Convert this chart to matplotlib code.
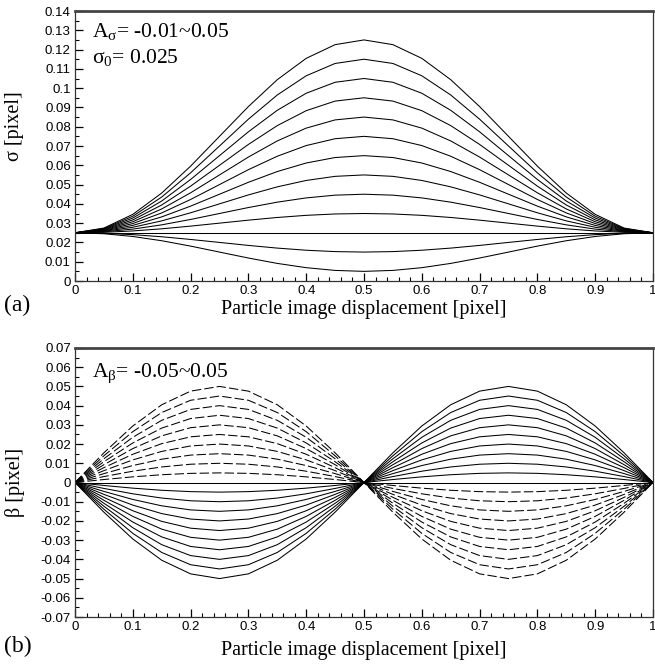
import matplotlib
matplotlib.use("Agg")
import matplotlib.pyplot as plt
import numpy as np
from matplotlib.ticker import MultipleLocator, FuncFormatter

plt.rcParams["mathtext.fontset"] = "custom"
plt.rcParams["mathtext.rm"] = "Liberation Serif"
plt.rcParams["mathtext.it"] = "Liberation Serif:italic"

# Particle image displacement samples [pixel]
displacement = [0.00, 0.05, 0.10, 0.15, 0.20, 0.25, 0.30, 0.35, 0.40, 0.45, 0.50,
                0.55, 0.60, 0.65, 0.70, 0.75, 0.80, 0.85, 0.90, 0.95, 1.00]

# (a) width: sigma = sigma0 + A_sigma * shape_sigma
sigma0 = 0.025
amp_sigma = [-0.010, -0.005, 0.000, 0.005, 0.010, 0.015, 0.020,
             0.025, 0.030, 0.035, 0.040, 0.045, 0.050]
shape_sigma = [0.000, 0.049, 0.191, 0.412, 0.691, 1.000, 1.309, 1.588, 1.809, 1.951, 2.000,
               1.951, 1.809, 1.588, 1.309, 1.000, 0.691, 0.412, 0.191, 0.049, 0.000]

# (b) skew: beta = A_beta * shape_beta
amp_beta = [-0.050, -0.045, -0.040, -0.035, -0.030, -0.025, -0.020, -0.015, -0.010, -0.005,
            0.000, 0.005, 0.010, 0.015, 0.020, 0.025, 0.030, 0.035, 0.040, 0.045, 0.050]
shape_beta = [0.000, -0.309, -0.588, -0.809, -0.951, -1.000, -0.951, -0.809, -0.588, -0.309, 0.000,
              0.309, 0.588, 0.809, 0.951, 1.000, 0.951, 0.809, 0.588, 0.309, 0.000]

x = np.array(displacement)
fig = plt.figure(figsize=(6.55, 6.65), dpi=100)

W, H = 655.0, 665.0
ax1 = fig.add_axes([75 / W, 1 - 281 / H, (653 - 75) / W, (281 - 11) / H])
ax2 = fig.add_axes([75 / W, 1 - 617 / H, (653 - 75) / W, (617 - 348) / H])

for a in amp_sigma:
    ax1.plot(x, sigma0 + a * np.array(shape_sigma), color="black", lw=0.75)

for a in amp_beta:
    ls = (0, (9, 3)) if a < 0 else "-"
    ax2.plot(x, a * np.array(shape_beta), color="black", lw=0.75, linestyle=ls)


def fmt(v, pos):
    if abs(v) < 1e-9:
        return "0"
    return ("%.2f" % v).rstrip("0").rstrip(".")


serif = "Liberation Serif"
sans = "Liberation Sans"

for ax, lo, hi in [(ax1, 0.0, 0.14), (ax2, -0.07, 0.07)]:
    ax.set_xlim(0, 1)
    ax.set_ylim(lo, hi)
    ax.xaxis.set_major_locator(MultipleLocator(0.1))
    ax.xaxis.set_minor_locator(MultipleLocator(0.02))
    ax.yaxis.set_major_locator(MultipleLocator(0.01))
    ax.yaxis.set_minor_locator(MultipleLocator(0.005))
    ax.xaxis.set_major_formatter(FuncFormatter(fmt))
    ax.yaxis.set_major_formatter(FuncFormatter(fmt))
    ax.tick_params(which="both", direction="in", top=False, right=False,
                   color="black", labelsize=9.5, pad=3)
    ax.tick_params(which="major", length=6, width=0.9)
    ax.tick_params(which="minor", length=3, width=0.8)
    for lab in ax.get_xticklabels() + ax.get_yticklabels():
        lab.set_fontfamily(sans)
    for side in ["left", "bottom", "right"]:
        ax.spines[side].set_linewidth(0.9)
        ax.spines[side].set_color("#333333")
    ax.spines["top"].set_linewidth(2.0)
    ax.spines["top"].set_color("#444444")
    ax.set_xlabel("Particle image displacement [pixel]", fontfamily=serif, fontsize=14.5)

ax1.xaxis.set_label_coords(0.5, -(309 - 281) / 270.0)
ax2.xaxis.set_label_coords(0.5, -(651 - 617) / 269.0)
for lab in (ax1.xaxis.label, ax2.xaxis.label):
    lab.set_va("center")

ax1.set_ylabel("σ [pixel]", fontfamily=serif, fontsize=14.5)
ax2.set_ylabel("β [pixel]", fontfamily=serif, fontsize=14.5)
ax1.yaxis.set_label_coords((15 - 75) / 578.0, 1 - (126 - 11) / 270.0)
ax2.yaxis.set_label_coords((15 - 75) / 578.0, 0.5)
for lab in (ax1.yaxis.label, ax2.yaxis.label):
    lab.set_va("center")

ax1.text(0.03, 0.962, r"A$_{\mathrm{σ}}$= -0.01~0.05", transform=ax1.transAxes,
         fontfamily=serif, fontsize=15.5, va="top", ha="left")
ax1.text(0.03, 0.868, r"σ$_{\mathrm{0}}$= 0.025", transform=ax1.transAxes,
         fontfamily=serif, fontsize=15.5, va="top", ha="left")
ax2.text(0.03, 0.950, r"A$_{\mathrm{β}}$= -0.05~0.05", transform=ax2.transAxes,
         fontfamily=serif, fontsize=15.5, va="top", ha="left")

fig.text(4 / W, 1 - 305 / H, "(a)", fontfamily=serif, fontsize=17, va="center", ha="left")
fig.text(4 / W, 1 - 646 / H, "(b)", fontfamily=serif, fontsize=17, va="center", ha="left")

fig.savefig("out.png", dpi=100, facecolor="white")
